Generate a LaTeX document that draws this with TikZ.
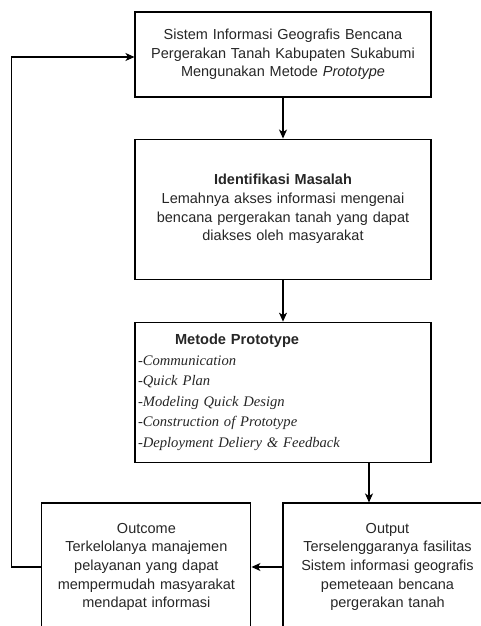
\documentclass[tikz,border=0pt]{standalone}
\usepackage{fontspec}
\setmainfont{Liberation Sans}
\newfontfamily\serifit{Liberation Serif}
\usetikzlibrary{arrows.meta,positioning}

\begin{document}
\begin{tikzpicture}[x=1pt,y=1pt,node distance=41pt and 31pt,
  font=\fontsize{14.5}{18.7}\selectfont,
  box/.style={draw,line width=1.1pt,align=center,text=black!85,
    text width=#1,inner sep=3pt},
  box/.default=290pt, >={Stealth[length=9pt,width=8pt,inset=2.5pt]}]
  \clip (0,0) rectangle (481,626);
  \node[box,minimum height=85pt] (sistem) at (283,571.5)
    {Sistem Informasi Geografis Bencana\\Pergerakan Tanah Kabupaten Sukabumi\\Mengunakan Metode \textit{Prototype}};
  \node[box,minimum height=140pt,below=of sistem] (masalah)
    {\textbf{Identifikasi Masalah}\\Lemahnya akses informasi mengenai\\bencana pergerakan tanah yang dapat\\diakses oleh masyarakat};
  \node[box,minimum height=140pt,below=42pt of masalah,align=left,
    font=\fontsize{14.6}{20.6}\selectfont] (metode)
    {\hspace*{37pt}\textbf{Metode Prototype}\\
     {\serifit\itshape -Communication}\\
     {\serifit\itshape -Quick Plan}\\
     {\serifit\itshape -Modeling Quick Design}\\
     {\serifit\itshape -Construction of Prototype}\\
     {\serifit\itshape -Deployment Deliery \& Feedback}};
  \node[box=203pt,minimum height=128pt] (output) at (387.5,59)
    {Output\\Terselenggaranya fasilitas\\Sistem informasi geografis\\pemeteaan bencana\\pergerakan tanah};
  \node[box=203pt,minimum height=128pt,left=of output] (outcome)
    {Outcome\\Terkelolanya manajemen\\pelayanan yang dapat\\mempermudah masyarakat\\mendapat informasi};
  \draw[->,line width=1.1pt] (sistem) -- (masalah);
  \draw[->,line width=1.1pt] (masalah) -- (metode);
  \draw[->,line width=1.1pt] ([xshift=86pt]metode.south) -- ([xshift=86pt]metode.south |- output.north);
  \draw[->,line width=1.1pt] (output) -- (outcome);
  \draw[->,line width=1.1pt] (outcome.west) -- ++(-30,0) |- ([yshift=-2.5pt]sistem.west);
\end{tikzpicture}
\end{document}
